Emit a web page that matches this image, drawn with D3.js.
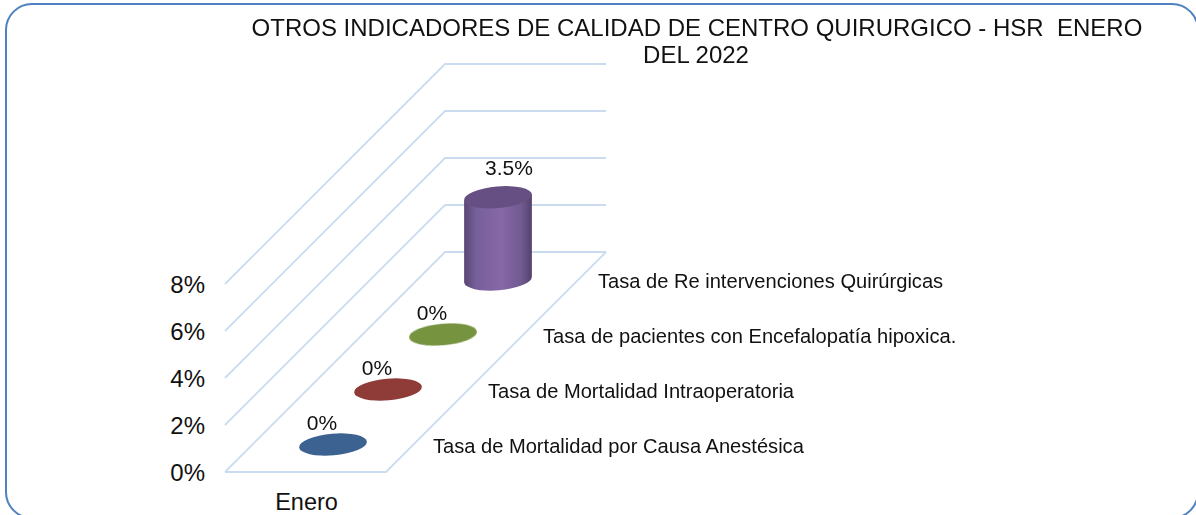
<!DOCTYPE html>
<html><head><meta charset="utf-8">
<style>html,body{margin:0;padding:0;background:#fff;overflow:hidden}svg{display:block}text{font-family:"Liberation Sans",Arial,sans-serif;fill:#111}</style>
<script src="https://cdn.jsdelivr.net/npm/d3@7"></script></head><body>
<script>
const titleLines = ["OTROS INDICADORES DE CALIDAD DE CENTRO QUIRURGICO - HSR  ENERO", "DEL 2022"];
const categories = ["Enero"];
const seriesNames = ["Tasa de Mortalidad por Causa Anestésica","Tasa de Mortalidad Intraoperatoria","Tasa de pacientes con Encefalopatía hipoxica.","Tasa de Re intervenciones Quirúrgicas"];
const seriesValues = [0,0,0,3.5];
const seriesLabels = ["0%","0%","0%","3.5%"];
const seriesColors = ["#3b6291","#8f3a38","#76933f","#8064a2"];
const yTicks = [0,2,4,6,8];

const W=1196,H=515;
const svg=d3.select("body").append("svg").attr("width",W).attr("height",H);
const defs=svg.append("defs");
defs.append("filter").attr("id","soft").attr("x","-10%").attr("y","-10%").attr("width","120%").attr("height","120%")
  .append("feGaussianBlur").attr("stdDeviation",0.6);
const lg=defs.append("linearGradient").attr("id","cyl");
[[0,"#5a4674"],[0.18,"#76609a"],[0.55,"#8767a8"],[0.85,"#6f5a90"],[1,"#54426c"]].forEach(([o,c])=>lg.append("stop").attr("offset",o).attr("stop-color",c));

svg.append("rect").attr("x",6).attr("y",4).attr("width",1192).attr("height",514).attr("rx",26).attr("ry",26)
  .attr("fill","#fff").attr("stroke","#4f81c0").attr("stroke-width",2);

// scales
const y=d3.scaleLinear().domain([0,8]).range([472,284]);
const xCat=d3.scaleBand().domain(categories).range([225,386]);
const depth=d3.scaleBand().domain(seriesNames).range([0,1]);
const depthDX=220, depthDY=-220;
const project=(x,t,v)=>[x+depthDX*t, y(v)+depthDY*t];

const xL=xCat.range()[0], xR=xCat.range()[1];
const g=svg.append("g").attr("filter","url(#soft)");
const line=d3.line();
yTicks.forEach(v=>{
  g.append("path").attr("d",line([project(xL,0,v),project(xL,1,v),project(xR,1,v)]))
   .attr("fill","none").attr("stroke","#cbdcf1").attr("stroke-width",1.8);
});
// floor edges
g.append("path").attr("d",line([project(xL,0,0),project(xR,0,0),project(xR,1,0)]))
   .attr("fill","none").attr("stroke","#cbdcf1").attr("stroke-width",1.8);

// y axis labels
svg.append("g").selectAll("text").data(yTicks).join("text")
  .attr("x",205).attr("y",d=>y(d)+9).attr("text-anchor","end").attr("font-size",24)
  .text(d=>d+"%");

// category label
const xMid=xCat(categories[0])+xCat.bandwidth()/2;
svg.append("text").attr("x",xMid+1).attr("y",510).attr("text-anchor","middle").attr("font-size",23.5).text(categories[0]);

// marks
const rx=34, ry=10.8, rot=-5;
const marks=svg.append("g").attr("filter","url(#soft)");
seriesNames.forEach((name,i)=>{
  const t=depth(name)+depth.bandwidth()/2;
  const [cx,cy]=project(xMid,t,0);
  const [,topY]=project(xMid,t,seriesValues[i]);
  const v=seriesValues[i];
  if(v>0){
    const dx=rx*Math.cos(rot*Math.PI/180), dy=rx*Math.sin(rot*Math.PI/180);
    const body=`M${cx-dx},${topY-dy} L${cx-dx},${cy-dy} A${rx},${ry} ${rot} 0 0 ${cx+dx},${cy+dy} L${cx+dx},${topY+dy} Z`;
    marks.append("path").attr("d",body).attr("fill","url(#cyl)");
    marks.append("ellipse").attr("cx",cx).attr("cy",topY).attr("rx",rx).attr("ry",ry)
      .attr("transform",`rotate(${rot} ${cx} ${topY})`).attr("fill","#664f82");
  } else {
    marks.append("ellipse").attr("cx",cx).attr("cy",cy).attr("rx",rx).attr("ry",ry)
      .attr("transform",`rotate(${rot} ${cx} ${cy})`).attr("fill",seriesColors[i]);
  }
  svg.append("text").attr("x",cx+(v>0?11:-11)).attr("y",topY-(v>0?22:15)).attr("text-anchor","middle").attr("font-size",21).text(seriesLabels[i]);
  svg.append("text").attr("x",cx+100).attr("y",cy+8).attr("font-size",20.1).text(name);
});

// title
svg.append("g").selectAll("text").data(titleLines).join("text")
  .attr("x",(d,i)=>i?696:697).attr("y",(d,i)=>36+i*27).attr("text-anchor","middle").attr("font-size",24)
  .style("white-space","pre").text(d=>d);
</script></body></html>
